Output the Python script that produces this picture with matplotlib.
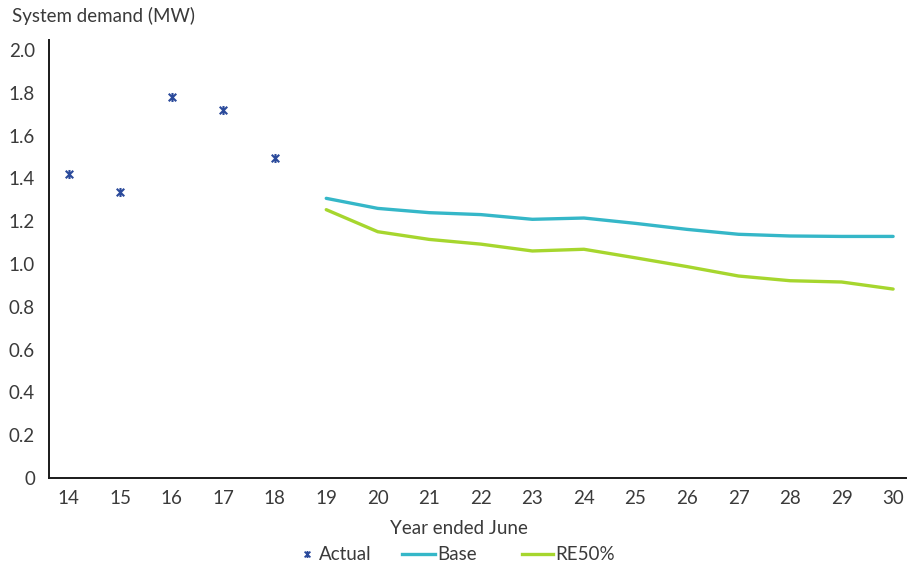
import matplotlib
matplotlib.use("Agg")
import matplotlib.pyplot as plt
from matplotlib.path import Path
from matplotlib.lines import Line2D

plt.rcParams['font.family'] = ['Lato', 'DejaVu Sans']
plt.rcParams['font.weight'] = 'normal'

# Data
actual_years = [14, 15, 16, 17, 18]
actual_mw = [1.419, 1.335, 1.782, 1.720, 1.497]
forecast_years = [19, 20, 21, 22, 23, 24, 25, 26, 27, 28, 29, 30]
base_mw = [1.307, 1.260, 1.240, 1.231, 1.209, 1.215, 1.190, 1.162, 1.139, 1.131, 1.129, 1.129]
re50_mw = [1.254, 1.151, 1.115, 1.093, 1.061, 1.069, 1.029, 0.988, 0.944, 0.922, 0.916, 0.883]
x_ticks = list(range(14, 31))
y_ticks = [0, 0.2, 0.4, 0.6, 0.8, 1.0, 1.2, 1.4, 1.6, 1.8, 2.0]
y_tick_labels = ['0', '0.2', '0.4', '0.6', '0.8', '1.0', '1.2', '1.4', '1.6', '1.8', '2.0']
legend_labels = ['Actual', 'Base', 'RE50%']

ACTUAL_C = '#2B4A9B'
BASE_C = '#35B7C8'
RE_C = '#A6D62E'
TEXT_C = '#3a3a3a'
FS = 13.5

# Star marker: an X with a vertical stroke
star = Path(
    [(-1, -1), (1, 1), (-1, 1), (1, -1), (0, -1.2), (0, 1.2)],
    [Path.MOVETO, Path.LINETO, Path.MOVETO, Path.LINETO, Path.MOVETO, Path.LINETO],
)

fig = plt.figure(figsize=(9.11, 5.69), dpi=100)
ax = fig.add_axes([49 / 911, 1 - 478 / 569, (906 - 49) / 911, (478 - 40) / 569])

ax.plot(forecast_years, base_mw, color=BASE_C, lw=2.4, solid_capstyle='round')
ax.plot(forecast_years, re50_mw, color=RE_C, lw=2.4, solid_capstyle='round')
ax.plot(actual_years, actual_mw, ls='none', marker=star, ms=6.5, mew=1.5,
        mec=ACTUAL_C, mfc='none')

ax.set_xlim(13.62, 30.25)
ax.set_ylim(0, 2.047)
ax.set_xticks(x_ticks)
ax.set_xticklabels([str(v) for v in x_ticks])
ax.set_yticks(y_ticks)
ax.set_yticklabels(y_tick_labels)
ax.tick_params(length=0, labelsize=FS, labelcolor=TEXT_C)
ax.tick_params(axis='x', pad=9)
ax.tick_params(axis='y', pad=10)

for s in ['top', 'right']:
    ax.spines[s].set_visible(False)
for s in ['left', 'bottom']:
    ax.spines[s].set_color('#1a1a1a')
    ax.spines[s].set_linewidth(1.4)

fig.text(12 / 911, 1 - 16 / 569, 'System demand (MW)', fontsize=FS, color=TEXT_C,
         ha='left', va='center')
fig.text(459 / 911, 1 - 529 / 569, 'Year ended June', fontsize=FS, color=TEXT_C,
         ha='center', va='center')

# Legend entries, each placed at its own column start
handles = [
    Line2D([], [], ls='none', marker=star, ms=5, mew=1.3, mec=ACTUAL_C, mfc='none'),
    Line2D([], [], color=BASE_C, lw=2.4),
    Line2D([], [], color=RE_C, lw=2.4),
]
entry_left = [298, 402, 522]
entry_len = [1.0, 1.76, 1.65]
for h, lab, x0, hl in zip(handles, legend_labels, entry_left, entry_len):
    leg = fig.legend([h], [lab], loc='center left',
                     bbox_to_anchor=(x0 / 911, 1 - 555 / 569), frameon=False,
                     fontsize=FS, handlelength=hl, handletextpad=0.1,
                     labelcolor=TEXT_C, borderaxespad=0, borderpad=0)

fig.savefig('out.png', dpi=100)
